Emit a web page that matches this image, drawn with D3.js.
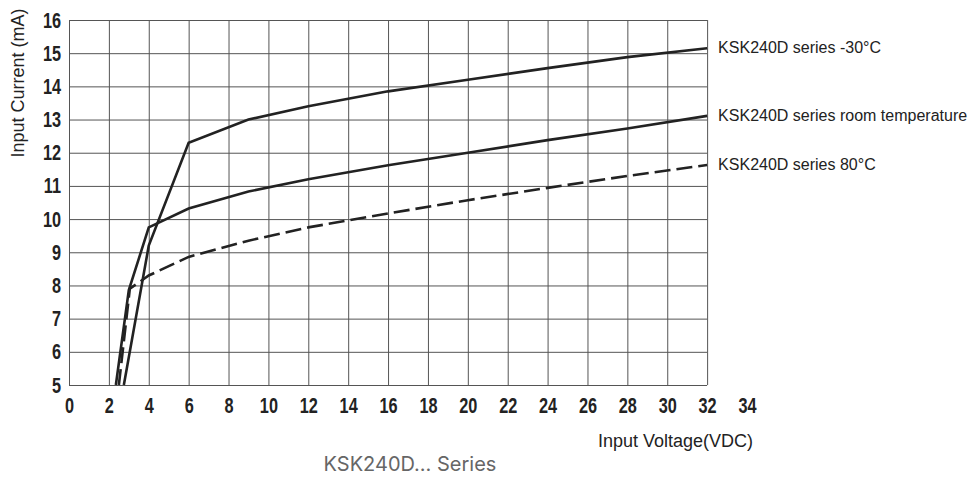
<!DOCTYPE html>
<html>
<head>
<meta charset="utf-8">
<script src="https://cdn.jsdelivr.net/npm/d3@7"></script>
<style>
  body { margin: 0; background: #fff; }
  .tick text { font-family: "Liberation Sans", Arial, sans-serif; font-weight: bold; font-size: 22px; fill: #222; }
  .grid line { stroke: #555; stroke-width: 1; }
  .grid .domain { display: none; }
</style>
</head>
<body>
<svg id="chart" width="974" height="477"></svg>
<script>
// Tick labels
const xTicks = [0, 2, 4, 6, 8, 10, 12, 14, 16, 18, 20, 22, 24, 26, 28, 30, 32, 34];
const yTicks = [5, 6, 7, 8, 9, 10, 11, 12, 13, 14, 15, 16];

// Series: input voltage (VDC) -> input current (mA)
const coldVoltage = [2.75, 4, 6, 9, 12, 16, 20, 24, 28, 32];
const coldCurrent = [5, 9.2, 12.3, 13.0, 13.4, 13.85, 14.2, 14.55, 14.88, 15.15];

const roomVoltage = [2.35, 3, 4, 6, 9, 12, 16, 20, 24, 28, 32];
const roomCurrent = [5, 7.86, 9.75, 10.32, 10.83, 11.2, 11.62, 12.0, 12.38, 12.73, 13.11];

const hotVoltage = [2.5, 3.05, 4, 6, 9, 12, 16, 20, 24, 28, 32];
const hotCurrent = [5, 7.9, 8.3, 8.86, 9.35, 9.75, 10.17, 10.57, 10.94, 11.3, 11.63];

const seriesNames = ["KSK240D series -30°C", "KSK240D series room temperature", "KSK240D series 80°C"];

const svg = d3.select("#chart");

const xScale = d3.scaleLinear().domain([0, 34]).range([69, 747]);
const yScale = d3.scaleLinear().domain([5, 16]).range([385, 20]);
const xMax = 32;
const squeeze = 0.74; // narrow bold digits

// Gridlines
svg.append("g")
  .attr("class", "grid")
  .attr("transform", `translate(0,${yScale(5)})`)
  .call(d3.axisBottom(xScale)
    .tickValues(xTicks.filter((d) => d <= xMax))
    .tickSize(-(yScale(5) - yScale(16)))
    .tickFormat(""));

svg.append("g")
  .attr("class", "grid")
  .attr("transform", `translate(${xScale(0)},0)`)
  .call(d3.axisLeft(yScale)
    .tickValues(yTicks)
    .tickSize(-(xScale(xMax) - xScale(0)))
    .tickFormat(""));

// Axis labels
const xAxis = svg.append("g")
  .attr("transform", `translate(0,${yScale(5)})`)
  .call(d3.axisBottom(xScale).tickValues(xTicks).tickSize(0).tickPadding(12));
xAxis.select(".domain").remove();
xAxis.selectAll(".tick text").attr("transform", `scale(${squeeze},1)`);

const yAxis = svg.append("g")
  .attr("transform", `translate(${xScale(0)},0)`)
  .call(d3.axisLeft(yScale).tickValues(yTicks).tickSize(0).tickPadding(8));
yAxis.select(".domain").remove();
yAxis.selectAll(".tick text")
  .attr("x", -8 / squeeze)
  .attr("transform", `scale(${squeeze},1)`);

// Lines
const series = [
  { name: seriesNames[0], v: coldVoltage, c: coldCurrent, dash: null },
  { name: seriesNames[1], v: roomVoltage, c: roomCurrent, dash: null },
  { name: seriesNames[2], v: hotVoltage, c: hotCurrent, dash: "16,6" },
];

const line = d3.line()
  .x((d) => xScale(d[0]))
  .y((d) => yScale(d[1]));

series.forEach((s) => {
  const pts = s.v.map((v, i) => [v, s.c[i]]);
  svg.append("path")
    .datum(pts)
    .attr("fill", "none")
    .attr("stroke", "#222")
    .attr("stroke-width", 2.6)
    .attr("stroke-linejoin", "miter")
    .attr("stroke-dasharray", s.dash)
    .attr("d", line);

  svg.append("text")
    .attr("x", xScale(xMax) + 11)
    .attr("y", yScale(s.c[s.c.length - 1]))
    .attr("dy", "0.3em")
    .style("font-family", "'Liberation Sans', Arial, sans-serif")
    .style("font-size", "16px")
    .attr("fill", "#222")
    .text(s.name);
});

// Axis titles
svg.append("text")
  .attr("transform", "rotate(-90)")
  .attr("x", -83)
  .attr("y", 24)
  .style("font-family", "'Liberation Sans', Arial, sans-serif")
  .style("font-size", "18px")
  .style("text-anchor", "middle")
  .attr("fill", "#222")
  .text("Input Current (mA)");

svg.append("text")
  .attr("x", 753)
  .attr("y", 447)
  .style("font-family", "'Liberation Sans', Arial, sans-serif")
  .style("font-size", "18px")
  .style("text-anchor", "end")
  .attr("fill", "#222")
  .text("Input Voltage(VDC)");

svg.append("text")
  .attr("x", 410)
  .attr("y", 471)
  .style("font-family", "Inter, 'Open Sans', sans-serif")
  .style("font-size", "20px")
  .style("text-anchor", "middle")
  .attr("fill", "#666")
  .text("KSK240D… Series");
</script>
</body>
</html>
